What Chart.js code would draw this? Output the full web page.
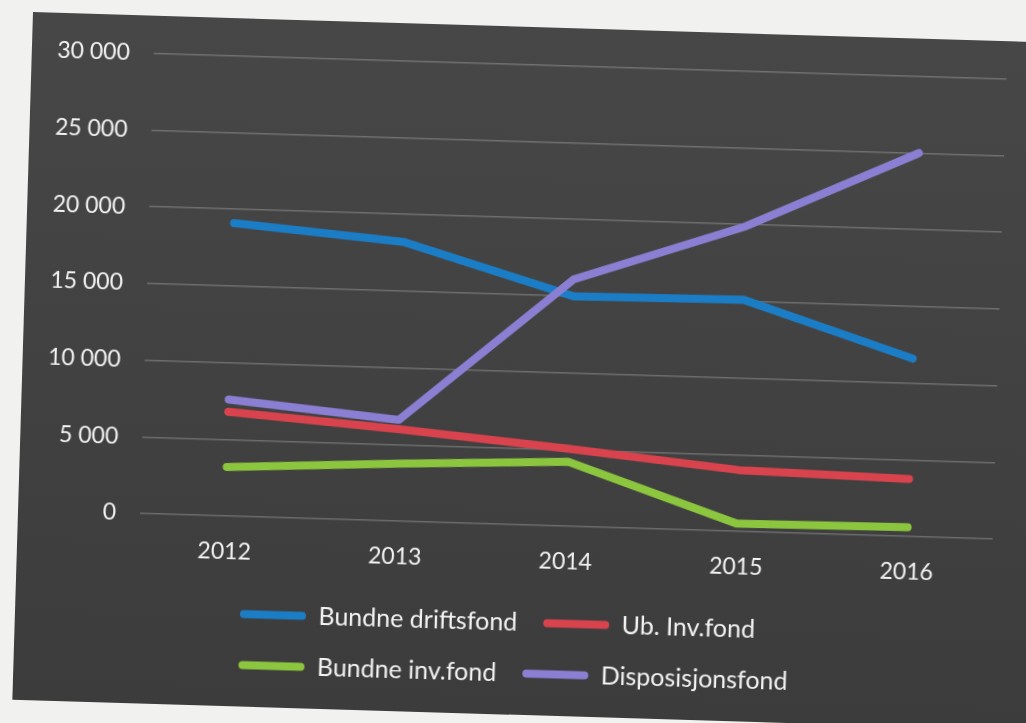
<!DOCTYPE html>
<html>
<head>
<meta charset="utf-8">
<script src="https://cdn.jsdelivr.net/npm/chart.js@4"></script>
<style>
	html, body { margin: 0; padding: 0; width: 1026px; height: 723px; overflow: hidden; background: #f1f1ef; }
	/* the photographed sheet is a little tilted */
	#panel { position: absolute; left: 33px; top: 12px; width: 1040px; height: 688px;
		background: linear-gradient(180deg, #474747, #3c3c3c);
		transform: rotate(1.72deg); transform-origin: 0 0; }
</style>
</head>
<body>
<div id="panel"><canvas id="chart_1" width="985" height="688"></canvas></div>
<script>
var years = ['2012', '2013', '2014', '2015', '2016'];
var bundneDriftsfond = [19100, 18200, 15000, 15100, 11600];
var ubInvfond = [6800, 6000, 5050, 4000, 3750];
var bundneInvfond = [3200, 3750, 4200, 500, 600];
var disposisjonsfond = [7600, 6600, 16100, 19900, 25000];
var yTicks = [0, 5000, 10000, 15000, 20000, 25000, 30000];

var font = 'Lato, "Open Sans", sans-serif';
var textColor = '#f2f2f2';

function fmt(v) {
	return String(v).replace(/\B(?=(\d{3})+(?!\d))/g, ' ');
}

function line(label, data, color, order) {
	return {label: label, data: data, borderColor: color, backgroundColor: color,
		borderWidth: 8, pointRadius: 0, borderCapStyle: 'round', borderJoinStyle: 'round',
		fill: false, tension: 0, order: order};
}

// keep the legend in two rows, starting under 2012 like the original
var legendRows = {
	id: 'legendRows',
	afterLayout: function(chart) {
		var lg = chart.legend;
		lg.left = 199;
		lg.right = 880;
	}
};

var ctx_1 = document.getElementById('chart_1').getContext('2d');
var chart_1 = new Chart(ctx_1, {
	type: 'line',
	data: {
		labels: years,
		datasets: [
			line('Bundne driftsfond', bundneDriftsfond, '#1b7dc6', 3),
			line('Ub. Inv.fond', ubInvfond, '#d9434d', 2),
			line('Bundne inv.fond', bundneInvfond, '#8cc63e', 1),
			line('Disposisjonsfond', disposisjonsfond, '#8a7fd2', 0)
		]
	},
	plugins: [legendRows],
	options: {
		responsive: false,
		animation: false,
		layout: {padding: {left: 0, right: 10, top: 32, bottom: 19}},
		scales: {
			x: {
				offset: true,
				grid: {display: false, drawTicks: false},
				border: {display: false},
				ticks: {color: textColor, padding: 22, font: {family: font, size: 23}},
				afterFit: function(s) { s.height = 59; }
			},
			y: {
				min: 0, max: 30000,
				afterBuildTicks: function(s) { s.ticks = yTicks.map(function(v) { return {value: v}; }); },
				grid: {color: 'rgba(210,210,210,0.3)', lineWidth: 1.5, drawTicks: false},
				border: {display: false},
				ticks: {color: textColor, padding: 24, font: {family: font, size: 23},
					callback: function(v) { return fmt(v); }},
				afterFit: function(s) { s.width = 122; }
			}
		},
		plugins: {
			tooltip: {enabled: false},
			legend: {
				position: 'bottom',
				align: 'start',
				labels: {
					color: textColor,
					font: {family: font, size: 25},
					boxWidth: 66,
					boxHeight: 8,
					padding: 26,
					useBorderRadius: true,
					borderRadius: 4,
					sort: function(a, b) { return a.datasetIndex - b.datasetIndex; },
					generateLabels: function(chart) {
						var items = Chart.defaults.plugins.legend.labels.generateLabels(chart);
						items.forEach(function(it) { it.fillStyle = it.strokeStyle; it.lineWidth = 0; });
						return items;
					}
				}
			}
		}
	}
});
</script>
</body>
</html>
